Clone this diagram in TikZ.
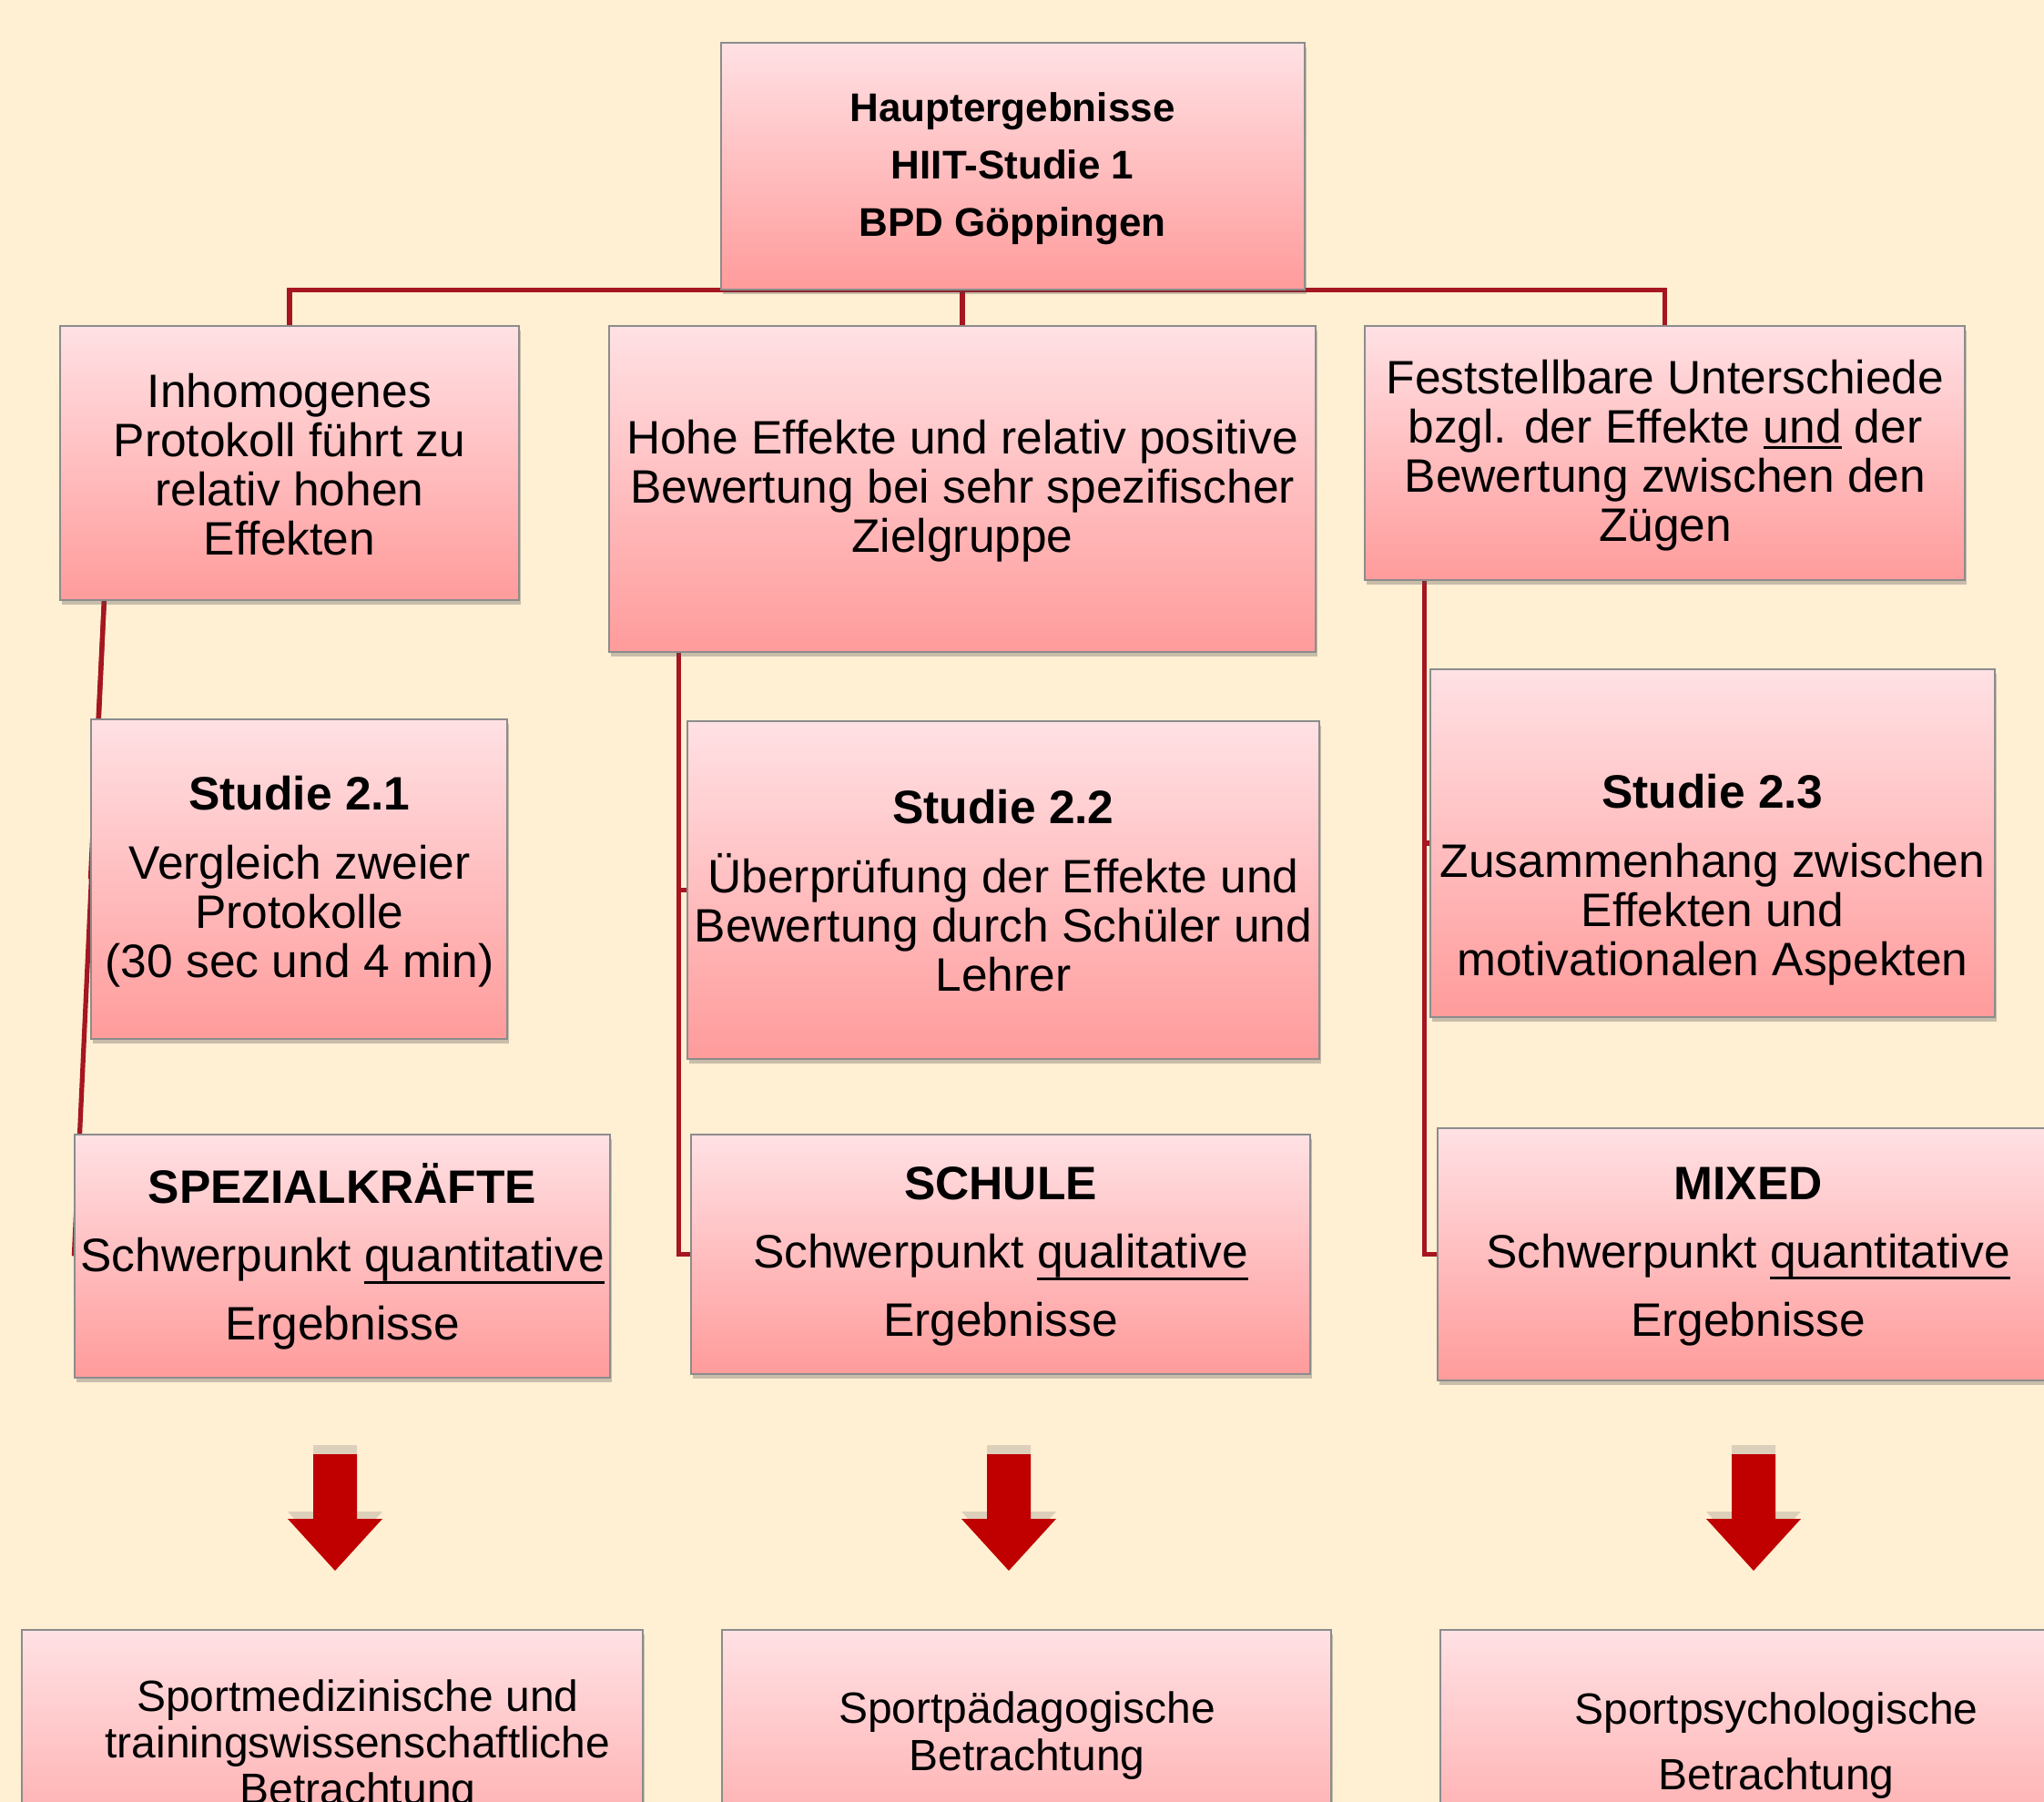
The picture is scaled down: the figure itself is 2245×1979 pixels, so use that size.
\documentclass[tikz,border=0pt]{standalone}
\usepackage{fontspec}
\setmainfont{Liberation Sans}
\usetikzlibrary{fit,calc,shadows}
\definecolor{bgc}{RGB}{255,239,211}
\definecolor{boxtop}{RGB}{255,225,228}
\definecolor{boxbot}{RGB}{255,155,155}
\definecolor{connc}{RGB}{165,22,32}
\definecolor{arrowred}{RGB}{192,0,0}
\definecolor{boxline}{RGB}{140,140,140}
\pgfdeclarelayer{back}
\pgfsetlayers{back,main}
\newcommand\bodyfont{\fontsize{25.75}{27}\selectfont}
\newcommand\ulx[2]{\setbox0\hbox{#2}\rlap{\rule[#1]{\wd0}{1.5pt}}\box0\relax}
\tikzset{
  box/.style={draw=boxline, line width=0.6pt, top color=boxtop, bottom color=boxbot,
    inner sep=0pt,
    drop shadow={shadow xshift=0.8pt, shadow yshift=-2.5pt, opacity=0.3, fill=black!70}},
  txt/.style={inner sep=0pt, align=center, font=\bodyfont},
  conn/.style={draw=connc, line width=2.6pt},
  blockarrow/.style={fill=arrowred},
  arrowshadow/.style={fill=black!60, opacity=0.22}
}
\begin{document}
\begin{tikzpicture}[x=0.5pt,y=-0.5pt]
\useasboundingbox (0,0) rectangle (2245,1979);
\clip (0,0) rectangle (2245,1979);
\begin{pgfonlayer}{back}
\fill[bgc] (0,0) rectangle (2245,1979);
\end{pgfonlayer}

% top
\node[box, fit={(792,47) (1433,318)}] (top) {};
\node[txt, font=\fontsize{22}{31.5}\selectfont\bfseries] (topt) at (1112,185)
  {Hauptergebnisse\\HIIT-Studie 1\\BPD Göppingen};

% level 1
\node[box, fit={(66,358) (570,659)}] (A1) {};
\node[txt] (A1t) at (318,510)
  {Inhomogenes\\Protokoll führt zu\\relativ hohen\\Effekten};
\node[box, fit={(669,358) (1445,716)}] (B1) {};
\node[txt] (B1t) at (1057,539)
  {Hohe Effekte und relativ positive\\Bewertung bei sehr spezifischer\\Zielgruppe};
\node[box, fit={(1499,358) (2158,637)}] (C1) {};
\node[txt] (C1t) at (1829,500)
  {Feststellbare Unterschiede\\bzgl. der Effekte \ulx{-3.5pt}{und} der\\Bewertung zwischen den\\Zügen};

% level 2
\node[box, fit={(100,790) (557,1141)}] (A2) {};
\node[txt] (A2t) at (329,968)
  {\textbf{Studie 2.1}\\[11pt]Vergleich zweier\\Protokolle\\(30 sec und 4 min)};
\node[box, fit={(755,792) (1449,1163)}] (B2) {};
\node[txt] (B2t) at (1102,978)
  {\textbf{Studie 2.2}\\[11pt]Überprüfung der Effekte und\\Bewertung durch Schüler und\\Lehrer};
\node[box, fit={(1571,735) (2191,1117)}] (C2) {};
\node[txt] (C2t) at (1881,966)
  {\textbf{Studie 2.3}\\[11pt]Zusammenhang zwischen\\Effekten und\\motivationalen Aspekten};

% level 3
\node[box, fit={(82,1246) (670,1513)}] (A3) {};
\node[txt, font=\fontsize{25.75}{37.5}\selectfont] (A3t) at (376,1380)
  {\textbf{SPEZIALKRÄFTE}\\Schwerpunkt \ulx{-6.5pt}{quantitative}\\Ergebnisse};
\node[box, fit={(759,1246) (1439,1509)}] (B3) {};
\node[txt, font=\fontsize{25.75}{37.5}\selectfont] (B3t) at (1099,1380)
  {\textbf{SCHULE}\\Schwerpunkt \ulx{-6.5pt}{qualitative}\\Ergebnisse};
\node[box, fit={(1579,1239) (2261,1516)}] (C3) {};
\node[txt, font=\fontsize{25.75}{37.5}\selectfont] (C3t) at (1920,1380)
  {\textbf{MIXED}\\Schwerpunkt \ulx{-6.5pt}{quantitative}\\Ergebnisse};

% level 4
\node[box, fit={(24,1790) (706,2100)}] (A4) {};
\node[txt, font=\fontsize{24}{25.5}\selectfont] (A4t) at (393,1918)
  {Sportmedizinische und\\trainingswissenschaftliche\\Betrachtung};
\node[box, fit={(793,1790) (1462,2100)}] (B4) {};
\node[txt, font=\fontsize{24}{25.75}\selectfont] (B4t) at (1128,1906)
  {Sportpädagogische\\Betrachtung};
\node[box, fit={(1582,1790) (2320,2100)}] (C4) {};
\node[txt, font=\fontsize{24}{36}\selectfont] (C4t) at (1951,1917)
  {Sportpsychologische\\Betrachtung};

% connectors
\begin{pgfonlayer}{back}
\draw[conn] (A1.north) -- (A1.north |- top.south) -- (C1.north |- top.south) -- (C1.north);
\draw[conn] (B1.north) -- (B1.north |- top.south);
\coordinate (a0) at ($(A1.south west)+(49,0)$);
\draw[conn] (a0) -- (A3.west);
\draw[conn] (a0) -- (A2.west);
\coordinate (b0) at ($(B1.south west)+(77,0)$);
\draw[conn] (b0) |- (B3.west);
\draw[conn] (b0) |- (B2.west);
\coordinate (c0) at ($(C1.south west)+(66,0)$);
\draw[conn] (c0) |- (C3.west);
\draw[conn] (c0) |- (C2.west);
\end{pgfonlayer}

% block arrows
\foreach \cx in {368, 1108, 1926}{
  \fill[arrowshadow] (\cx-24,1587) -- (\cx+24,1587) -- (\cx+24,1660) -- (\cx+52,1660)
     -- (\cx,1717) -- (\cx-52,1660) -- (\cx-24,1660) -- cycle;
  \fill[blockarrow] (\cx-24,1597) -- (\cx+24,1597) -- (\cx+24,1668) -- (\cx+52,1668)
     -- (\cx,1725) -- (\cx-52,1668) -- (\cx-24,1668) -- cycle;
}
\end{tikzpicture}
\end{document}
